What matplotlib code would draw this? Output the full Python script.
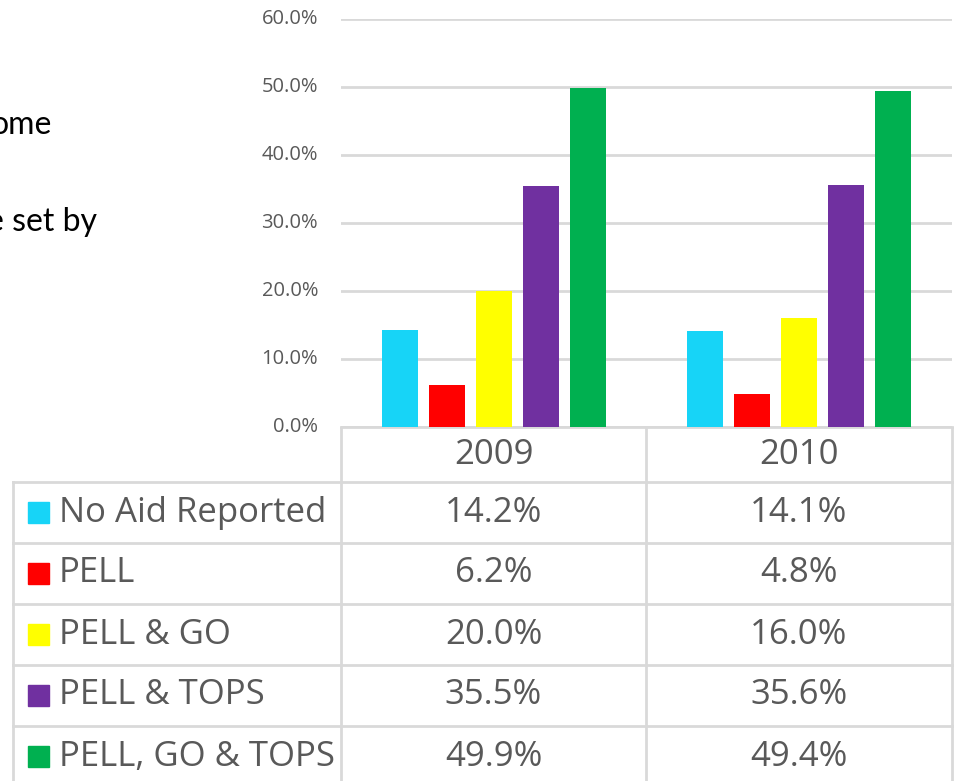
import numpy as np
import matplotlib.pyplot as plt

years = ["2009", "2010"]
series = ["No Aid Reported", "PELL", "PELL & GO", "PELL & TOPS", "PELL, GO & TOPS"]
values_2009 = [14.2, 6.2, 20.0, 35.5, 49.9]
values_2010 = [14.1, 4.8, 16.0, 35.6, 49.4]
colors = ["#17D4F7", "#FF0000", "#FFFF00", "#7030A0", "#00B050"]
yticks = [0, 10, 20, 30, 40, 50, 60]

plt.rcParams['font.family'] = ['Open Sans', 'DejaVu Sans']
grid_c = "#D9D9D9"
txt_c = "#595959"

W, H = 955, 781
def rect(l, t, r, b):
    return [l / W, 1 - b / H, (r - l) / W, (b - t) / H]

fig = plt.figure(figsize=(9.55, 7.81), dpi=100)

# slide text, cut off at the left edge as in the original slide
fig.text(-9 / W, 1 - 125 / H, "ome", fontsize=23, color="black", va="center",
         ha="left", family="Lato")
fig.text(-13 / W, 1 - 222 / H, "e set by", fontsize=23, color="black", va="center",
         ha="left", family="Lato")

ax = fig.add_axes(rect(341, 19, 952, 427))
data = np.array([values_2009, values_2010])
n = len(series)
pitch = 0.154
width = 0.118
for j in range(n):
    x = np.arange(len(years)) + (j - (n - 1) / 2) * pitch
    ax.bar(x, data[:, j], width=width, color=colors[j], zorder=3)
ax.set_xlim(-0.5, 1.5)
ax.set_ylim(0, 60)
ax.set_yticks(yticks)
ax.set_yticklabels([])
ax.set_xticks([])
ax.tick_params(axis='both', length=0)
# y tick labels, right-aligned a fixed distance left of the plot area
label_x = -(341 - 318) / (952 - 341)
for t in yticks:
    ax.text(label_x, t, f"{t:.1f}%", transform=ax.get_yaxis_transform(),
            ha="right", va="center", color=txt_c, fontsize=14.5)
ax.grid(axis='y', color=grid_c, linewidth=2, zorder=0)
for s in ["top", "right", "left"]:
    ax.spines[s].set_visible(False)
ax.spines["bottom"].set_color(grid_c)
ax.spines["bottom"].set_linewidth(2)

# data table below the chart
tab = fig.add_axes(rect(0, 427, 955, 781))
tab.set_xlim(0, 955)
tab.set_ylim(354, 0)
tab.axis('off')
col_x = [13, 341, 646, 952]
row_h = 61
head_h = 55
lw = 2
tab.plot([341, 341], [0, 354], color=grid_c, lw=lw)
tab.plot([646, 646], [0, 354], color=grid_c, lw=lw)
tab.plot([952, 952], [0, 354], color=grid_c, lw=lw)
tab.plot([13, 13], [head_h, 354], color=grid_c, lw=lw)
for i in range(n):
    y = head_h + i * row_h
    tab.plot([13, 952], [y, y], color=grid_c, lw=lw)

fs = 25
for k, yr in enumerate(years):
    cx = (col_x[k + 1] + col_x[k + 2]) / 2
    tab.text(cx, head_h / 2, yr, fontsize=fs, color=txt_c, ha="center", va="center")

for i, name in enumerate(series):
    cy = head_h + i * row_h + row_h / 2
    tab.add_patch(plt.Rectangle((28, cy - 11), 21, 21, color=colors[i]))
    tab.text(59, cy, name, fontsize=fs, color=txt_c, ha="left", va="center")
    for k in range(len(years)):
        cx = (col_x[k + 1] + col_x[k + 2]) / 2
        tab.text(cx, cy, f"{data[k, i]:.1f}%", fontsize=fs, color=txt_c, ha="center", va="center")

fig.savefig("out.png", dpi=100)
